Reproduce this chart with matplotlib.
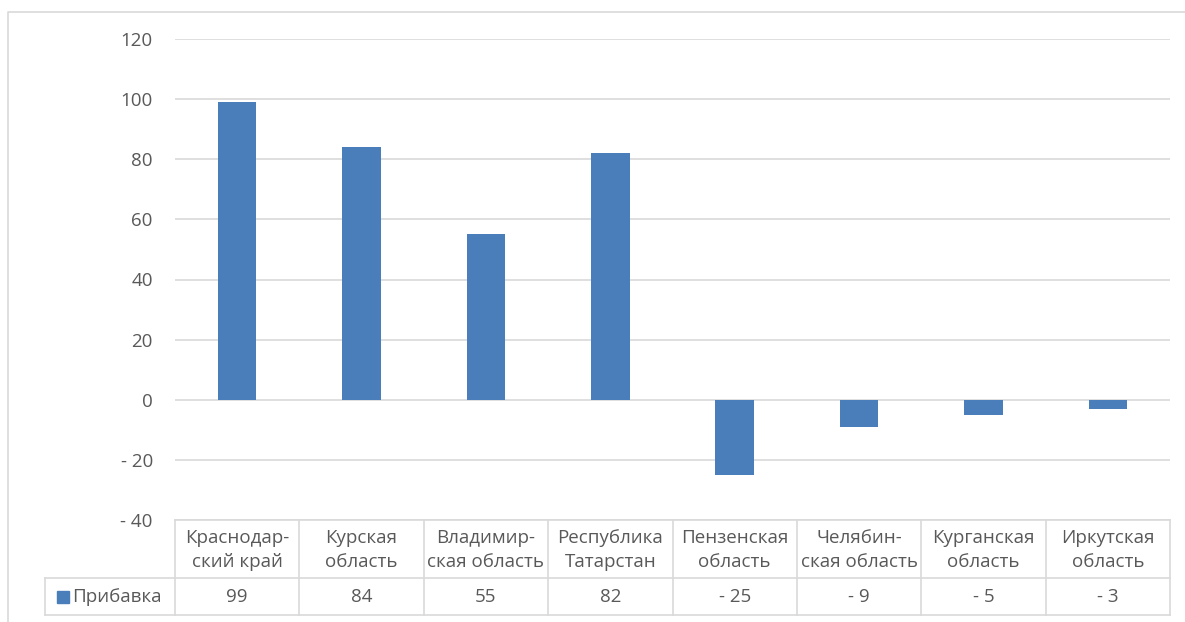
import numpy as np
import matplotlib
matplotlib.use("Agg")
import matplotlib.pyplot as plt
from matplotlib.lines import Line2D
from matplotlib.patches import Rectangle

# data
regions = ["Краснодар-\nский край", "Курская\nобласть", "Владимир-\nская область",
           "Республика\nТатарстан", "Пензенская\nобласть", "Челябин-\nская область",
           "Курганская\nобласть", "Иркутская\nобласть"]
values = [99, 84, 55, 82, -25, -9, -5, -3]
value_labels = ["99", "84", "55", "82", "- 25", "- 9", "- 5", "- 3"]
series_name = "Прибавка"
yticks = [-40, -20, 0, 20, 40, 60, 80, 100, 120]
ytick_labels = ["- 40", "- 20", "0", "20", "40", "60", "80", "100", "120"]

W, H = 1185, 622
txt = "#595959"
grid = "#d9d9d9"
bar_c = "#4a7ebb"
fs = 13.5
plt.rcParams["font.family"] = ["Open Sans", "DejaVu Sans"]

fig = plt.figure(figsize=(W / 100, H / 100), dpi=100)

def fx(p):
    return p / W

def fy(p):
    return 1 - p / H

left, right, top, bottom = 175, 1170, 39, 520
ax = fig.add_axes([fx(left), fy(bottom), fx(right - left), fy(top) - fy(bottom)])

x = np.arange(len(values))
ax.bar(x, values, width=0.31, color=bar_c, zorder=3)
ax.set_xlim(-0.5, len(values) - 0.5)
ax.set_ylim(-40, 120)
ax.set_yticks(yticks)
ax.set_yticklabels(ytick_labels, color=txt, fontsize=fs)
ax.tick_params(axis="y", length=0, pad=16)
ax.set_xticks([])
ax.grid(axis="y", color=grid, linewidth=1.2, zorder=0)
for s in ax.spines.values():
    s.set_visible(False)

# data table below the plot
row1_bot, row2_bot = 578, 615
leg_left = 45
tf = fig.transFigure
lw = 1.2
# horizontal lines
fig.add_artist(Line2D([fx(left), fx(right)], [fy(bottom), fy(bottom)], transform=tf, color=grid, lw=lw))
for yy in (row1_bot, row2_bot):
    fig.add_artist(Line2D([fx(leg_left), fx(right)], [fy(yy), fy(yy)], transform=tf, color=grid, lw=lw))
# vertical lines
colw = (right - left) / len(values)
for i in range(len(values) + 1):
    xx = left + i * colw
    fig.add_artist(Line2D([fx(xx), fx(xx)], [fy(bottom), fy(row2_bot)], transform=tf, color=grid, lw=lw))
fig.add_artist(Line2D([fx(leg_left), fx(leg_left)], [fy(row1_bot), fy(row2_bot)], transform=tf, color=grid, lw=lw))

for i, (r, v) in enumerate(zip(regions, value_labels)):
    cx = left + (i + 0.5) * colw
    fig.text(fx(cx), fy((bottom + row1_bot) / 2 + 1), r, ha="center", va="center",
             color=txt, fontsize=fs, linespacing=1.45)
    fig.text(fx(cx), fy((row1_bot + row2_bot) / 2), v, ha="center", va="center",
             color=txt, fontsize=fs)

# legend key in table
fig.add_artist(Rectangle((fx(57), fy(603)), fx(12), fy(591) - fy(603), transform=tf, color=bar_c))
fig.text(fx(72), fy((row1_bot + row2_bot) / 2), series_name, ha="left", va="center",
         color=txt, fontsize=fs)

# chart area border
fig.add_artist(Line2D([fx(8), fx(8), fx(W)], [0, fy(12), fy(12)], transform=tf, color=grid, lw=1.2))

fig.savefig("out.png", dpi=100)
